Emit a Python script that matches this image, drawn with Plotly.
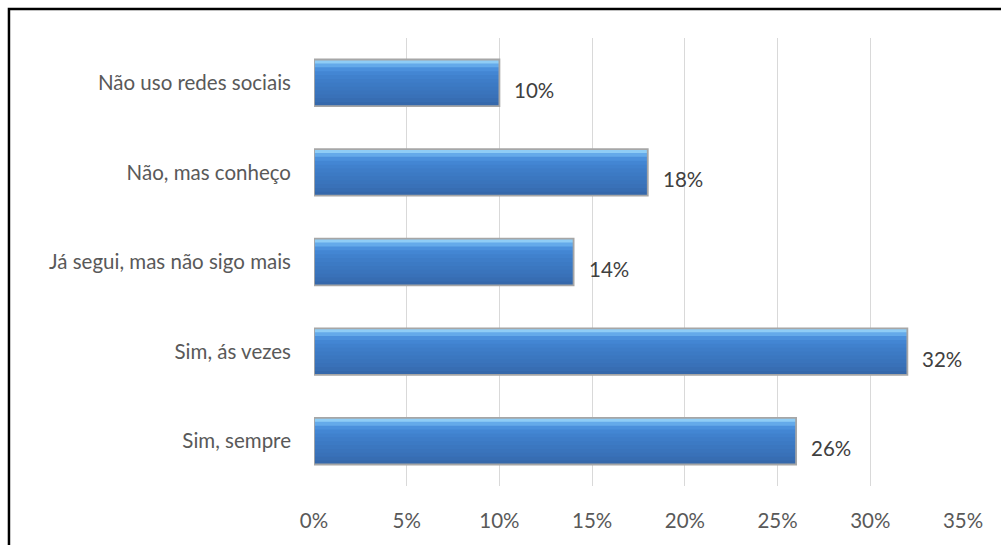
import plotly.graph_objects as go

categories = ["Sim, sempre", "Sim, ás vezes", "Já segui, mas não sigo mais",
              "Não, mas conheço", "Não uso redes sociais"]
values = [26, 32, 14, 18, 10]
tick_vals = [0, 5, 10, 15, 20, 25, 30, 35]
tick_text = ["0%", "5%", "10%", "15%", "20%", "25%", "30%", "35%"]

FONT = "Lato"
FS = 20.5
BW = 0.52
# vertical gradient of the bars, top -> bottom
grad = ["#8fcdf6", "#64aaea", "#4b90dc", "#4386d3", "#4081cd", "#3e7dc8",
        "#3c7ac4", "#3b77c0", "#3a74bc", "#3971b8", "#376db2", "#3568ab"]

fig = go.Figure()
n = len(grad)
sw = BW / n
for i, c in enumerate(grad):
    # each layer spans from its own top edge down to the bar bottom (no gaps)
    fig.add_trace(go.Bar(
        y=categories, x=values, orientation="h", width=BW - i * sw,
        offset=-BW / 2,
        marker=dict(color=c, line=dict(width=0)),
        hoverinfo="skip", showlegend=False,
    ))
# outline
fig.add_trace(go.Bar(
    y=categories, x=values, orientation="h", width=BW,
    marker=dict(color="rgba(0,0,0,0)", line=dict(color="#a6a6a6", width=1.8)),
    hoverinfo="skip", showlegend=False,
))

annotations = [dict(x=v, y=c, xref="x", yref="y", text=f"{v}%", showarrow=False,
                    xanchor="left", yanchor="middle", xshift=13, yshift=-7,
                    font=dict(family=FONT, size=FS, color="#404040"))
               for c, v in zip(categories, values)]

fig.update_layout(
    width=1001, height=545,
    margin=dict(l=314, r=38, t=38, b=59),
    paper_bgcolor="white", plot_bgcolor="white",
    barmode="overlay",
    font=dict(family=FONT, size=FS, color="#595959"),
    xaxis=dict(range=[0, 35], tickvals=tick_vals, ticktext=tick_text,
               showgrid=True, gridcolor="#d9d9d9", gridwidth=1,
               zeroline=False, showline=False, ticks="",
               ticklabelstandoff=20, fixedrange=True),
    yaxis=dict(showgrid=False, zeroline=False, showline=False, ticks="",
               ticklabelstandoff=22, range=[-0.5, 4.5], fixedrange=True),
    annotations=annotations,
    shapes=[dict(type="rect", xref="paper", yref="paper",
                 x0=-0.47, x1=1.2, y0=-0.3, y1=1.0647,
                 line=dict(color="black", width=2.5), fillcolor="rgba(0,0,0,0)",
                 layer="below")],
)

fig.write_html("out.html")
